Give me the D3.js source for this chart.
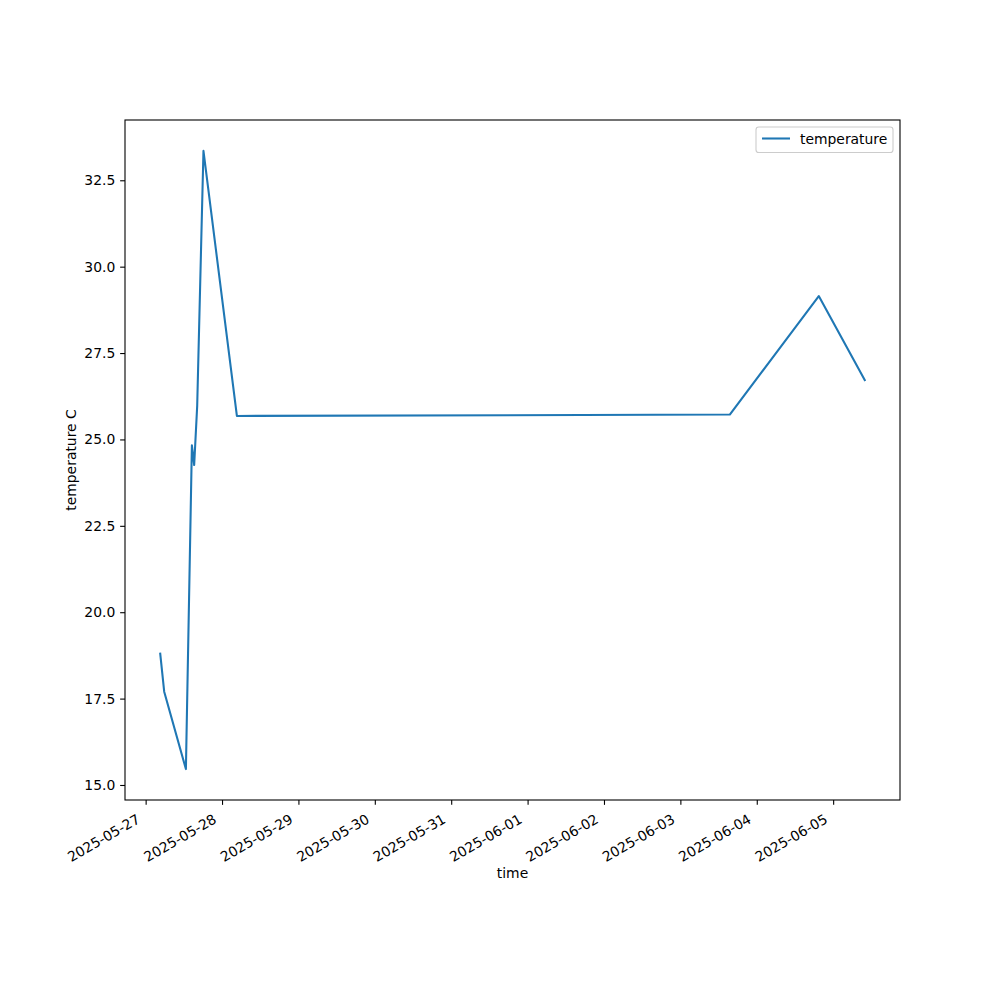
<!DOCTYPE html>
<html>
<head>
<meta charset="utf-8">
<script src="https://cdn.jsdelivr.net/npm/d3@7"></script>
<style>
  html, body { margin: 0; padding: 0; background: #fff; }
  svg { display: block; font-family: "DejaVu Sans", sans-serif; }
</style>
</head>
<body>
<svg id="chart" width="1000" height="1000"></svg>
<script>
// ---- data ----
const times = [
  "2025-05-27T04:35", "2025-05-27T05:50", "2025-05-27T12:39", "2025-05-27T14:32",
  "2025-05-27T15:15", "2025-05-27T16:12", "2025-05-27T18:10", "2025-05-28T04:40",
  "2025-06-03T15:32", "2025-06-04T19:29", "2025-06-05T09:56"
];
const temperature = [18.80, 17.70, 15.46, 24.83, 24.26, 25.98, 33.35, 25.68, 25.72, 29.15, 26.72];
const yTicks = [15.0, 17.5, 20.0, 22.5, 25.0, 27.5, 30.0, 32.5];
const seriesName = "temperature";
const xLabel = "time";
const yLabel = "temperature C";

(function () {
// ---- layout ----
const W = 1000, H = 1000;
const mL = 125, mR = 900, mT = 120, mB = 800;
const color = "#1f77b4";
const fs = 13.9;

const parse = d3.utcParse("%Y-%m-%dT%H:%M");
const data = times.map((t, i) => ({ t: parse(t), v: temperature[i] }));

// matplotlib-style 5% margins
const tExt = d3.extent(data, d => +d.t);
const tPad = (tExt[1] - tExt[0]) * 0.05;
const vExt = d3.extent(data, d => d.v);
const vPad = (vExt[1] - vExt[0]) * 0.05;

const x = d3.scaleUtc().domain([new Date(tExt[0] - tPad), new Date(tExt[1] + tPad)]).range([mL, mR]);
const y = d3.scaleLinear().domain([vExt[0] - vPad, vExt[1] + vPad]).range([mB, mT]);

const svg = d3.select("#chart");
svg.append("rect").attr("width", W).attr("height", H).attr("fill", "#fff");

// line
const line = d3.line().x(d => x(d.t)).y(d => y(d.v));
svg.append("path").datum(data)
  .attr("d", line)
  .attr("fill", "none")
  .attr("stroke", color)
  .attr("stroke-width", 2.08)
  .attr("stroke-linejoin", "round")
  .attr("stroke-linecap", "square");

// frame
svg.append("rect")
  .attr("x", mL).attr("y", mT)
  .attr("width", mR - mL).attr("height", mB - mT)
  .attr("fill", "none").attr("stroke", "#000").attr("stroke-width", 1.1);

// x axis
const xAxis = d3.axisBottom(x)
  .ticks(d3.utcDay.every(1))
  .tickFormat(d3.utcFormat("%Y-%m-%d"))
  .tickSize(4.86).tickPadding(4.86);
const gx = svg.append("g").attr("transform", `translate(0,${mB})`).call(xAxis);
gx.select(".domain").remove();
gx.selectAll(".tick line").attr("stroke", "#000").attr("stroke-width", 1.1);
gx.selectAll(".tick text")
  .attr("font-size", fs)
  .attr("font-family", "DejaVu Sans")
  .attr("fill", "#000")
  .attr("text-anchor", "end")
  .attr("y", 0).attr("dy", null)
  .attr("transform", "translate(-5,22) rotate(-30)");

// y axis
const yAxis = d3.axisLeft(y)
  .tickValues(yTicks)
  .tickFormat(d3.format(".1f"))
  .tickSize(4.86).tickPadding(4.86);
const gy = svg.append("g").attr("transform", `translate(${mL},0)`).call(yAxis);
gy.select(".domain").remove();
gy.selectAll(".tick line").attr("stroke", "#000").attr("stroke-width", 1.1);
gy.selectAll(".tick text")
  .attr("font-size", fs)
  .attr("font-family", "DejaVu Sans")
  .attr("fill", "#000");

// axis labels
svg.append("text")
  .attr("x", (mL + mR) / 2).attr("y", 878)
  .attr("text-anchor", "middle")
  .attr("font-size", fs).attr("fill", "#000")
  .text(xLabel);
svg.append("text")
  .attr("transform", `translate(76,${(mT + mB) / 2}) rotate(-90)`)
  .attr("text-anchor", "middle")
  .attr("font-size", fs).attr("fill", "#000")
  .text(yLabel);

// legend
const lg = svg.append("g");
lg.append("rect")
  .attr("x", 756).attr("y", 127).attr("width", 137).attr("height", 25.5)
  .attr("rx", 2.8).attr("ry", 2.8)
  .attr("fill", "#fff").attr("fill-opacity", 0.8)
  .attr("stroke", "#ccc").attr("stroke-width", 1.1);
lg.append("line")
  .attr("x1", 762).attr("x2", 790).attr("y1", 138.5).attr("y2", 138.5)
  .attr("stroke", color).attr("stroke-width", 2.08);
lg.append("text")
  .attr("x", 800).attr("y", 143.5)
  .attr("font-size", fs).attr("fill", "#000")
  .text(seriesName);
})();
</script>
</body>
</html>
